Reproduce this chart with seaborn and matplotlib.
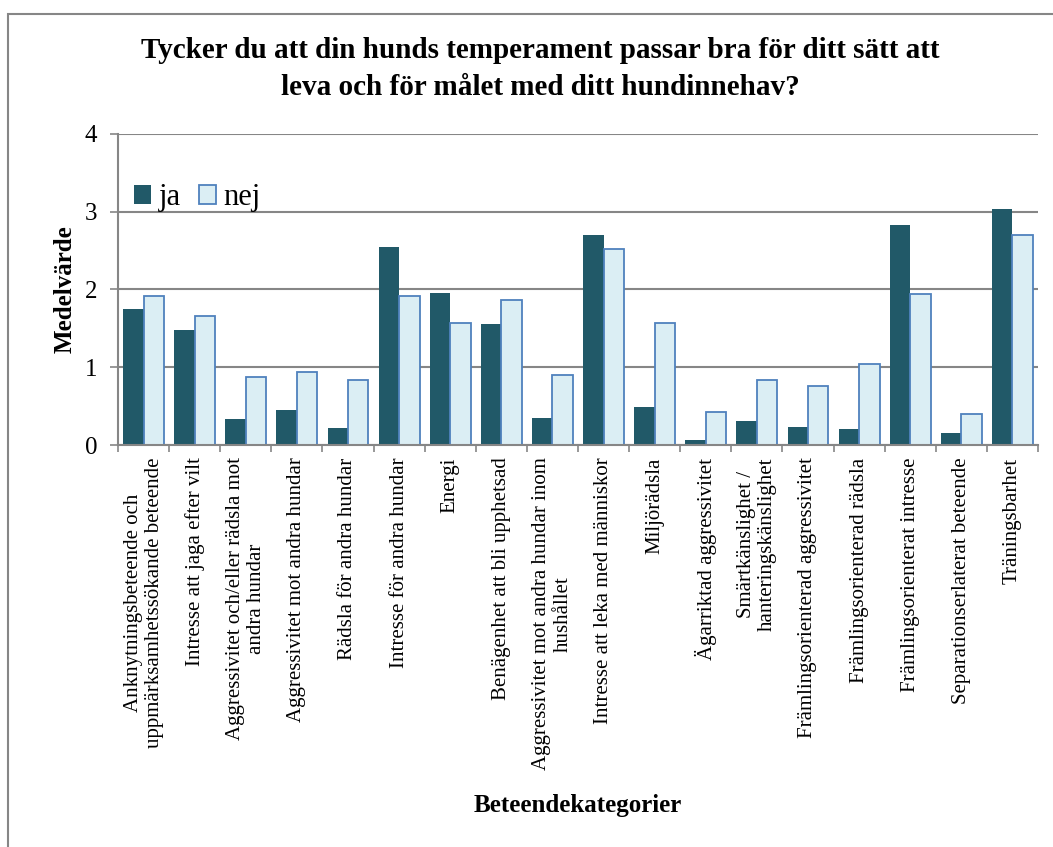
import matplotlib
matplotlib.use("Agg")
import matplotlib.pyplot as plt
import seaborn as sns
import pandas as pd
from matplotlib.patches import Patch, Rectangle

categories = [
    "Anknytningsbeteende och\nuppmärksamhetssökande beteende",
    "Intresse att jaga efter vilt",
    "Aggressivitet och/eller rädsla mot\nandra hundar",
    "Aggressivitet mot andra hundar",
    "Rädsla för andra hundar",
    "Intresse för andra hundar",
    "Energi",
    "Benägenhet att bli upphetsad",
    "Aggressivitet mot andra hundar inom\nhushållet",
    "Intresse att leka med människor",
    "Miljörädsla",
    "Ägarriktad aggressivitet",
    "Smärtkänslighet /\nhanteringskänslighet",
    "Främlingsorienterad aggressivitet",
    "Främlingsorienterad rädsla",
    "Främlingsorienterat intresse",
    "Separationserlaterat beteende",
    "Träningsbarhet",
]
ja_values = [1.75, 1.48, 0.335, 0.455, 0.22, 2.545, 1.96, 1.55, 0.35,
             2.695, 0.49, 0.06, 0.31, 0.23, 0.205, 2.83, 0.155, 3.04]
nej_values = [1.92, 1.665, 0.88, 0.94, 0.83, 1.92, 1.57, 1.86, 0.905,
              2.52, 1.57, 0.425, 0.835, 0.755, 1.04, 1.94, 0.395, 2.695]
series = ["ja", "nej"]
title = "Tycker du att din hunds temperament passar bra för ditt sätt att\nleva och för målet med ditt hundinnehav?"
y_label = "Medelvärde"
x_label = "Beteendekategorier"

ja_color = "#215968"
nej_color = "#DBEEF4"
nej_edge = "#4F81BD"
grid_color = "#868686"

df = pd.DataFrame({
    "kategori": categories * 2,
    "serie": [series[0]] * len(categories) + [series[1]] * len(categories),
    "varde": ja_values + nej_values,
})

sns.set_theme(style="white")
plt.rcParams["font.family"] = ["Liberation Serif", "DejaVu Serif"]
plt.rcParams["text.color"] = "black"
plt.rcParams["axes.labelcolor"] = "black"
plt.rcParams["xtick.labelcolor"] = "black"
plt.rcParams["ytick.labelcolor"] = "black"

W, H = 1053, 847
fig = plt.figure(figsize=(W / 100, H / 100), dpi=100)
ax = fig.add_axes([118 / W, 1 - 445 / H, 920 / W, 311 / H])

sns.barplot(data=df, x="kategori", y="varde", hue="serie", order=categories,
            hue_order=series, palette=[ja_color, nej_color], width=0.8,
            linewidth=0, saturation=1, ax=ax, legend=False)
for p in ax.containers[1].patches:
    p.set_edgecolor(nej_edge)
    p.set_linewidth(1.3)

ax.set_ylim(0, 4)
ax.set_xlim(-0.5, len(categories) - 0.5)
ax.set_yticks([0, 1, 2, 3, 4])
ax.yaxis.grid(True, color=grid_color, linewidth=1.5)
ax.set_axisbelow(True)
for s in ["top", "right"]:
    ax.spines[s].set_visible(False)
for s in ["left", "bottom"]:
    ax.spines[s].set_color(grid_color)
    ax.spines[s].set_linewidth(1.5)

ax.tick_params(axis="y", which="major", direction="out", length=6, width=1.2,
               color=grid_color, labelcolor="black", pad=9, labelsize=18, left=True)
ax.set_xticks(range(len(categories)))
ax.set_xticklabels(categories, rotation=90, ha="center", va="top",
                   multialignment="center", fontsize=15, linespacing=1.15,
                   color="black")
ax.set_xticks([i - 0.5 for i in range(len(categories) + 1)], minor=True)
ax.tick_params(axis="x", which="major", length=0, pad=9)
ax.tick_params(axis="x", which="minor", direction="out", length=5, width=1.2,
               color=grid_color, bottom=True)

ax.set_xlabel("")
ax.set_ylabel(y_label, fontsize=18, fontweight="bold", labelpad=6, color="black")

handles = [Patch(facecolor=ja_color, edgecolor="none"),
           Patch(facecolor=nej_color, edgecolor=nej_edge, linewidth=1.3)]
ax.legend(handles, series, loc="center left", bbox_to_anchor=(0.017, 0.795),
          ncol=2, frameon=False, fontsize=22, handlelength=0.56,
          handleheight=0.56, handletextpad=0.25, columnspacing=0.6,
          borderaxespad=0, borderpad=0)

fig.text(540 / W, 1 - 69 / H, title, ha="center", va="center",
         fontsize=21, fontweight="bold", linespacing=1.45, color="black")
fig.text(578 / W, 1 - 805 / H, x_label, ha="center", va="center",
         fontsize=18, fontweight="bold", color="black")

border = Rectangle((8 / W, -0.1), 1.2, 1.1 - 14 / H, transform=fig.transFigure,
                   fill=False, edgecolor=grid_color, linewidth=1.5)
fig.patches.append(border)

fig.savefig("out.png", dpi=100)
